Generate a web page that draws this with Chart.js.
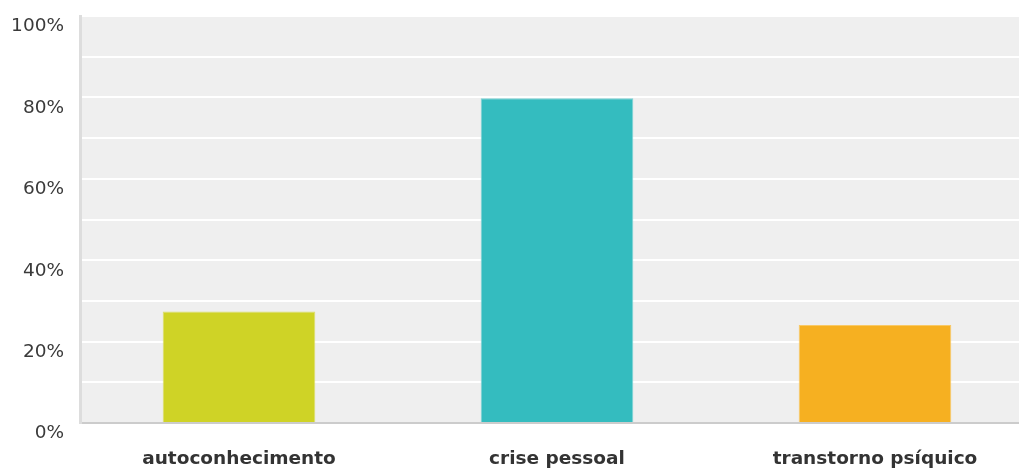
<!DOCTYPE html>
<html>
<head>
<meta charset="utf-8">
<script src="https://cdn.jsdelivr.net/npm/chart.js@4/dist/chart.umd.min.js"></script>
<style>
  html, body { margin: 0; padding: 0; background: #fff; overflow: hidden; }
  #wrap { position: relative; width: 1034px; height: 471px; }
</style>
</head>
<body>
<div id="wrap"><canvas id="c" width="1034" height="471"></canvas></div>
<script>
const categories = ['autoconhecimento', 'crise pessoal', 'transtorno psíquico'];
const percentages = [27.4, 79.8, 24.1];
const barColors = ['#cfd326', '#34bcbf', '#f6b021'];
const barEdges = ['#dcdf6a', '#7fd3d5', '#f9c965'];

// light grey panel behind the bars
const panel = {
  id: 'panel',
  beforeDraw(chart) {
    const { ctx, chartArea: a } = chart;
    ctx.save();
    ctx.fillStyle = '#efefef';
    ctx.fillRect(a.left, a.top - 1, a.right - a.left, a.bottom - a.top + 1);
    ctx.restore();
  }
};

new Chart(document.getElementById('c'), {
  type: 'bar',
  data: {
    labels: categories,
    datasets: [{
      data: percentages,
      backgroundColor: barColors,
      borderColor: barEdges,
      borderWidth: 1,
      barPercentage: 0.48,
      categoryPercentage: 1
    }]
  },
  options: {
    responsive: false,
    animation: false,
    layout: { padding: { top: 16, right: 0, left: 0, bottom: 0 } },
    plugins: { legend: { display: false }, tooltip: { enabled: false } },
    scales: {
      x: {
        grid: { display: false, drawTicks: false },
        border: { display: true, color: '#cccccc', width: 2 },
        ticks: {
          color: '#333333',
          font: { family: 'DejaVu Sans', size: 18.5, weight: 'bold' },
          padding: 25,
          maxRotation: 0
        },
        afterFit(s) { s.height = 48; s.paddingLeft = 0; s.paddingRight = 0; }
      },
      y: {
        min: 0,
        max: 100,
        grid: { color: '#ffffff', lineWidth: 2, drawTicks: false },
        border: { display: true, color: '#dddddd', width: 3 },
        ticks: {
          stepSize: 10,
          color: '#3a3a3a',
          font: { family: 'DejaVu Sans', size: 18.5 },
          padding: 16,
          labelOffset: 10.5,
          callback: v => (v % 20 === 0 ? v + '%' : '')
        },
        afterFit(s) { s.width = 80; s.paddingTop = 0; s.paddingBottom = 0; }
      }
    }
  },
  plugins: [panel]
});
</script>
</body>
</html>
